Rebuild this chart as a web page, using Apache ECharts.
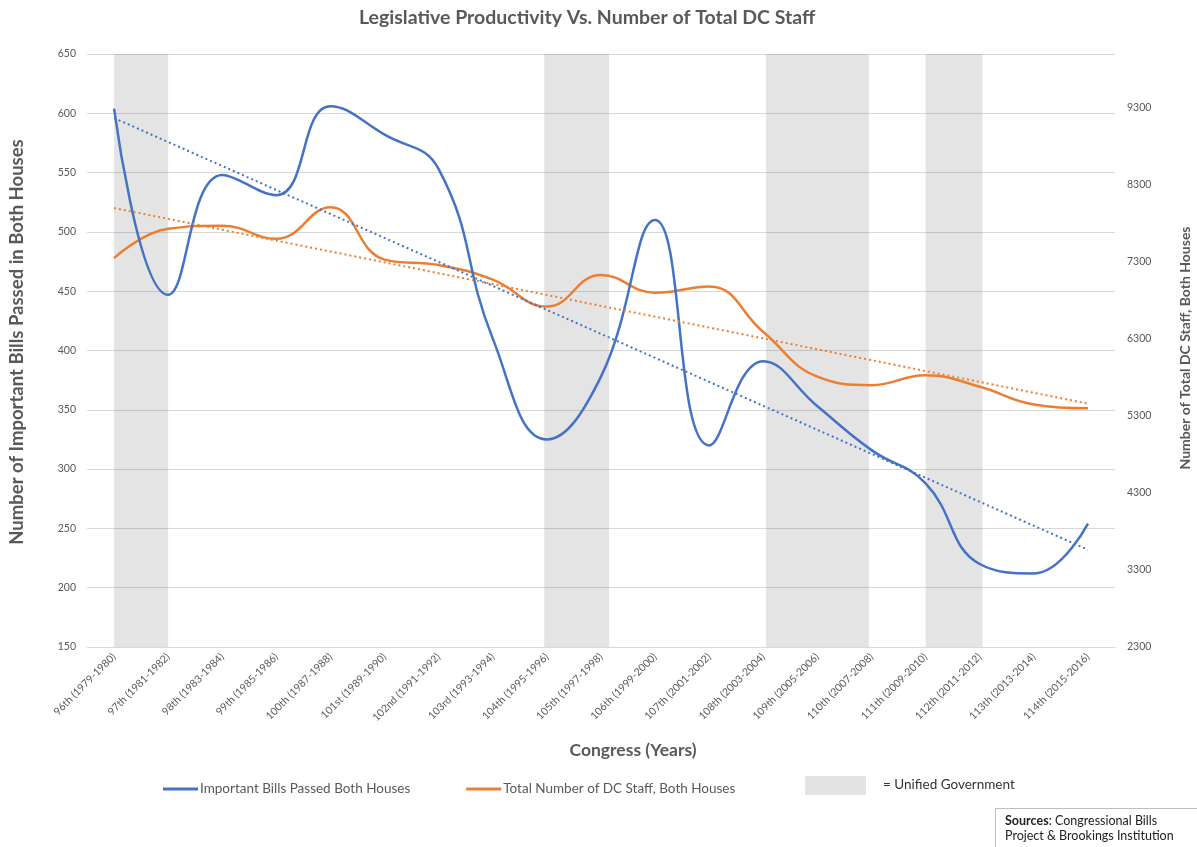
<!DOCTYPE html>
<html>
<head>
<meta charset="utf-8">
<script src="https://cdn.jsdelivr.net/npm/echarts@6/dist/echarts.min.js"></script>
<style>
  html, body { margin: 0; padding: 0; background: #fff; }
  #main { width: 1197px; height: 847px; }
</style>
</head>
<body>
<div id="main"></div>
<script>
var congresses = ['96th (1979-1980)', '97th (1981-1982)', '98th (1983-1984)', '99th (1985-1986)',
  '100th (1987-1988)', '101st (1989-1990)', '102nd (1991-1992)', '103rd (1993-1994)',
  '104th (1995-1996)', '105th (1997-1998)', '106th (1999-2000)', '107th (2001-2002)',
  '108th (2003-2004)', '109th (2005-2006)', '110th (2007-2008)', '111th (2009-2010)',
  '112th (2011-2012)', '113th (2013-2014)', '114th (2015-2016)'];

// important bills passed both houses (left axis)
var billsPassed = [604, 447, 548, 531, 606, 582, 553, 410, 325, 378, 510, 320, 391, 353, 316, 288, 220, 212, 254];
// total DC staff, both houses (right axis)
var dcStaff = [7350, 7730, 7770, 7600, 8010, 7330, 7260, 7070, 6720, 7130, 6900, 6980, 6390, 5810, 5700, 5830, 5680, 5450, 5400];

// trend line ends (first congress, last congress)
var billsTrend = [596, 232];
var staffTrend = [8000, 5460];

// unified government spans, in category index units
var unifiedSpans = [[0, 1], [7.95, 9.15], [12.05, 13.95], [15, 16.05]];

var leftTicks = [150, 650, 50];
var rightTicks = [2300, 10000, 1000];

var BLUE = '#4472C4';
var ORANGE = '#ED7D31';
var GREY_TXT = '#595959';
var FONT = 'Lato';

var chart = echarts.init(document.getElementById('main'));

var last = congresses.length - 1;

var option = {
  animation: false,
  textStyle: { fontFamily: FONT },
  title: {
    text: 'Legislative Productivity Vs. Number of Total DC Staff',
    left: 354,
    top: 3,
    textStyle: { fontSize: 19.5, fontWeight: 'bold', color: GREY_TXT, fontFamily: FONT }
  },
  legend: {
    data: ['Important Bills Passed Both Houses', 'Total Number of DC Staff, Both Houses'],
    left: 158,
    top: 777,
    icon: 'rect',
    itemWidth: 35,
    itemHeight: 3,
    itemGap: 56,
    textStyle: { fontSize: 13.5, color: GREY_TXT, fontFamily: FONT, padding: [0, 0, 0, -3] }
  },
  grid: {
    left: 87,
    right: 82,
    top: 54,
    bottom: 200
  },
  xAxis: [
    {
      type: 'category',
      data: congresses,
      boundaryGap: true,
      axisTick: { show: false },
      axisLine: { lineStyle: { color: '#d9d9d9' } },
      axisLabel: { rotate: 45, interval: 0, fontSize: 10.5, color: GREY_TXT, margin: 8 }
    },
    {
      type: 'value',
      min: -0.5,
      max: last + 0.5,
      show: false
    }
  ],
  yAxis: [
    {
      type: 'value',
      min: leftTicks[0],
      max: leftTicks[1],
      interval: leftTicks[2],
      axisLine: { show: false },
      axisTick: { show: false },
      splitLine: { lineStyle: { color: '#d9d9d9' } },
      axisLabel: { fontSize: 10.5, color: GREY_TXT, margin: 11 }
    },
    {
      type: 'value',
      min: rightTicks[0],
      max: rightTicks[1],
      interval: rightTicks[2],
      position: 'right',
      axisLine: { show: false },
      axisTick: { show: false },
      splitLine: { show: false },
      axisLabel: {
        fontSize: 10.5, color: GREY_TXT, margin: 12, showMaxLabel: false,
        formatter: function (v) { return String(v); }
      }
    }
  ],
  graphic: [
    {
      type: 'text',
      rotation: Math.PI / 2,
      x: 17, y: 342,
      style: {
        text: 'Number of Important Bills Passed in Both Houses',
        font: 'bold 18.5px ' + FONT,
        fill: GREY_TXT,
        align: 'center',
        verticalAlign: 'middle'
      }
    },
    {
      type: 'text',
      rotation: Math.PI / 2,
      x: 1185, y: 348,
      style: {
        text: 'Number of Total DC Staff, Both Houses',
        font: 'bold 14px ' + FONT,
        fill: GREY_TXT,
        align: 'center',
        verticalAlign: 'middle'
      }
    },
    {
      type: 'text',
      x: 633, y: 750,
      style: {
        text: 'Congress (Years)',
        font: 'bold 17.5px ' + FONT,
        fill: GREY_TXT,
        align: 'center',
        verticalAlign: 'middle'
      }
    },
    {
      type: 'rect',
      shape: { x: 805, y: 776, width: 61, height: 19 },
      style: { fill: '#e3e3e3' }
    },
    {
      type: 'text',
      x: 883, y: 785,
      style: {
        text: '= Unified Government',
        font: '13.5px ' + FONT,
        fill: '#333',
        verticalAlign: 'middle'
      }
    },
    {
      type: 'rect',
      shape: { x: 995.5, y: 808.5, width: 220, height: 60 },
      style: { fill: '#fff', stroke: '#bfbfbf', lineWidth: 1 }
    },
    {
      type: 'text',
      x: 1005, y: 813,
      style: {
        text: '{b|Sources}: Congressional Bills\nProject & Brookings Institution',
        font: '12.5px ' + FONT,
        fill: '#222',
        lineHeight: 15,
        rich: { b: { fontWeight: 'bold', fontSize: 12.5, fontFamily: FONT, fill: '#222' } }
      }
    }
  ],
  series: [
    {
      name: 'unified',
      type: 'line',
      xAxisIndex: 1,
      yAxisIndex: 0,
      data: [],
      silent: true,
      markArea: {
        silent: true,
        itemStyle: { color: 'rgba(0,0,0,0.105)' },
        data: unifiedSpans.map(function (s) { return [{ xAxis: s[0] }, { xAxis: s[1] }]; })
      }
    },
    {
      name: 'Important Bills Passed Both Houses',
      type: 'line',
      yAxisIndex: 0,
      data: billsPassed,
      smooth: 0.45,
      showSymbol: false,
      lineStyle: { color: BLUE, width: 2.5 },
      itemStyle: { color: BLUE },
      z: 4
    },
    {
      name: 'Total Number of DC Staff, Both Houses',
      type: 'line',
      yAxisIndex: 1,
      data: dcStaff,
      smooth: 0.45,
      showSymbol: false,
      lineStyle: { color: ORANGE, width: 2.5 },
      itemStyle: { color: ORANGE },
      z: 3
    },
    {
      name: 'bills trend',
      type: 'line',
      xAxisIndex: 1,
      yAxisIndex: 0,
      data: [[0, billsTrend[0]], [last, billsTrend[1]]],
      showSymbol: false,
      lineStyle: { color: BLUE, width: 2, type: [2, 3] },
      z: 5
    },
    {
      name: 'staff trend',
      type: 'line',
      xAxisIndex: 1,
      yAxisIndex: 1,
      data: [[0, staffTrend[0]], [last, staffTrend[1]]],
      showSymbol: false,
      lineStyle: { color: ORANGE, width: 2, type: [2, 3] },
      z: 5
    }
  ]
};

chart.setOption(option);
</script>
</body>
</html>
